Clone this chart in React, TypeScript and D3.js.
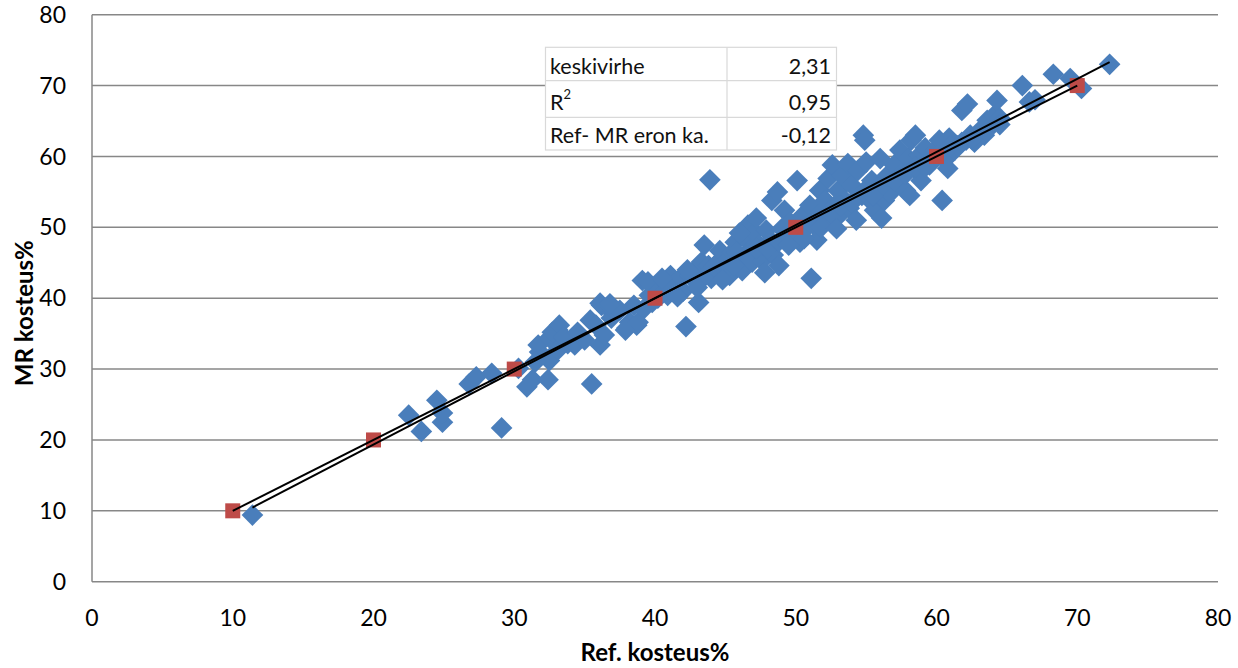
import React, { useEffect, useRef } from 'react';
import * as d3 from 'd3';

// measured points: [Ref. kosteus%, MR kosteus%]
const measured: [number, number][] = [
  [11.4, 9.4], [22.5, 23.5], [23.4, 21.2], [24.5, 25.6], [24.9, 22.5], [24.9, 23.8],
  [26.8, 27.9], [27.3, 28.9], [28.4, 29.4], [29.1, 21.7], [30.3, 30.1], [30.9, 27.5],
  [31.3, 28.5], [32.4, 28.5], [31.8, 32.4], [31.7, 33.4], [32.5, 34.4], [33.1, 35.5],
  [32.5, 31.2], [33.1, 32.7], [33.8, 33.6], [34.3, 33.4], [35.0, 34.1], [35.5, 27.9],
  [35.4, 36.9], [35.8, 36.2], [36.1, 33.4], [36.2, 39.0], [36.4, 34.8], [36.8, 38.3],
  [36.9, 37.2], [37.9, 35.5], [38.2, 36.6], [38.7, 36.2], [39.1, 42.5], [39.6, 40.4],
  [39.5, 42.3], [39.8, 39.4], [40.3, 41.1], [40.7, 42.3], [41.1, 43.2], [40.9, 40.4],
  [41.5, 41.8], [41.8, 42.8], [42.2, 36.0], [42.5, 43.2], [42.8, 43.9], [43.1, 39.4],
  [43.3, 45.1], [43.5, 47.5], [43.8, 44.6], [43.9, 56.7], [44.0, 42.8], [44.3, 43.9],
  [44.6, 45.3], [44.6, 46.7], [45.0, 45.1], [45.3, 43.2], [45.5, 46.5], [45.7, 47.9],
  [45.9, 45.3], [46.2, 43.9], [46.4, 48.4], [46.6, 50.3], [46.7, 46.7], [46.9, 45.1],
  [47.1, 49.3], [47.2, 51.3], [47.4, 47.5], [47.6, 45.3], [47.8, 43.6], [47.9, 49.6],
  [48.2, 48.2], [48.3, 53.8], [48.4, 46.1], [48.7, 55.0], [48.8, 44.6], [49.0, 49.8],
  [49.2, 52.4], [49.4, 48.2], [49.6, 50.7], [49.9, 49.3], [50.1, 56.6], [50.3, 47.9],
  [50.5, 51.7], [50.7, 49.8], [51.0, 53.1], [51.1, 42.8], [51.3, 50.3], [51.5, 48.2],
  [51.7, 55.2], [51.8, 52.1], [52.1, 53.8], [52.3, 56.9], [52.4, 51.0], [52.6, 58.8],
  [52.8, 53.1], [53.0, 55.2], [53.1, 51.7], [53.3, 57.3], [53.5, 53.8], [53.7, 59.0],
  [53.8, 52.7], [54.0, 55.9], [54.3, 51.0], [54.4, 58.0], [54.7, 54.5], [54.8, 63.0],
  [54.9, 62.3], [55.0, 59.2], [55.3, 53.8], [55.4, 56.6], [55.6, 52.4], [55.8, 55.5],
  [56.0, 59.7], [56.1, 51.3], [56.3, 53.8], [56.5, 57.3], [56.7, 54.8], [57.0, 58.8],
  [57.2, 56.6], [57.4, 60.9], [57.6, 57.7], [57.8, 55.2], [58.0, 59.7], [58.1, 54.5],
  [58.2, 62.3], [58.5, 63.0], [58.6, 58.0], [58.8, 60.2], [58.9, 56.6], [59.2, 61.2],
  [59.5, 58.8], [59.9, 60.9], [60.2, 62.3], [60.4, 53.8], [60.6, 59.5], [60.8, 58.3],
  [60.9, 62.6], [61.3, 60.9], [61.5, 61.5], [61.8, 66.5], [62.1, 62.3], [62.2, 67.4],
  [62.4, 63.0], [62.7, 62.0], [63.1, 63.7], [63.4, 63.0], [63.6, 65.1], [63.9, 64.4],
  [64.1, 65.8], [64.3, 67.9], [64.5, 65.4], [66.1, 70.0], [66.6, 67.7], [67.0, 68.0],
  [68.3, 71.6], [69.5, 71.0], [70.3, 69.6], [72.3, 73.0],
  [32.7, 35.2], [33.2, 36.2], [36.1, 39.3], [36.9, 38.7], [38.0, 35.8], [38.8, 36.6],
  [38.5, 39.0], [39.2, 38.5], [40.2, 40.0], [41.0, 41.5], [42.0, 41.0], [42.8, 42.5],
  [43.5, 43.0], [44.2, 44.5], [45.0, 44.0], [45.8, 46.5], [46.5, 46.0], [47.2, 47.0],
  [48.0, 47.0], [48.8, 48.0], [49.5, 47.5], [50.2, 49.0], [51.0, 50.5], [51.8, 50.0],
  [52.5, 52.0], [53.2, 53.0], [54.0, 53.5], [54.8, 55.0], [55.5, 54.5], [56.2, 56.0],
  [57.0, 56.5], [57.8, 57.5], [58.5, 58.5], [59.2, 58.5], [60.0, 60.0], [61.0, 61.5],
  [61.8, 62.0], [62.5, 62.5], [63.5, 63.5], [64.5, 64.5], [31.5, 31.0], [33.5, 34.5],
  [34.5, 35.2], [37.5, 38.3], [36.8, 39.2], [40.5, 42.8], [41.6, 40.2], [42.3, 44.0],
  [43.0, 41.5], [44.8, 42.6], [45.6, 44.6], [46.0, 49.2], [50.6, 48.4], [52.9, 49.8],
];

// reference (1:1) points
const reference = [10, 20, 30, 40, 50, 60, 70];

// fitted line
const fitSlope = 1.032;
const fitIntercept = -1.3;

const statLabels = ['keskivirhe', 'R', 'Ref- MR eron ka.'];
const statValues = ['2,31', '0,95', '-0,12'];

const ticks = [0, 10, 20, 30, 40, 50, 60, 70, 80];

const font = 'Lato, "Open Sans", sans-serif';

export default function App() {
  const svgRef = useRef<SVGSVGElement>(null);
  const width = 1238;
  const height = 668;

  useEffect(() => {
    if (!svgRef.current) return;
    const svg = d3.select(svgRef.current);
    svg.selectAll('*').remove();

    const x = d3.scaleLinear().domain([0, 80]).range([92, 1218]);
    const y = d3.scaleLinear().domain([0, 80]).range([581.7, 14.7]);

    // gridlines
    svg.append('g')
      .selectAll('line')
      .data(ticks)
      .join('line')
      .attr('x1', x(0))
      .attr('x2', x(80))
      .attr('y1', (d) => y(d))
      .attr('y2', (d) => y(d))
      .attr('stroke', '#878787')
      .attr('stroke-width', 1.5);

    svg.append('line')
      .attr('x1', x(0)).attr('x2', x(0))
      .attr('y1', y(0)).attr('y2', y(80))
      .attr('stroke', '#878787')
      .attr('stroke-width', 1.5);

    // tick labels
    svg.append('g')
      .selectAll('text')
      .data(ticks)
      .join('text')
      .attr('x', 66)
      .attr('y', (d) => y(d))
      .attr('dy', '0.35em')
      .attr('text-anchor', 'end')
      .attr('font-family', font)
      .attr('font-size', 23)
      .text((d) => d);

    svg.append('g')
      .selectAll('text')
      .data(ticks)
      .join('text')
      .attr('x', (d) => x(d))
      .attr('y', 618)
      .attr('dy', '0.35em')
      .attr('text-anchor', 'middle')
      .attr('font-family', font)
      .attr('font-size', 23)
      .text((d) => d);

    // axis titles
    svg.append('text')
      .attr('transform', `translate(33,${(y(0) + y(80)) / 2 + 15}) rotate(-90)`)
      .attr('text-anchor', 'middle')
      .attr('font-family', font)
      .attr('font-weight', 'bold')
      .attr('font-size', 24)
      .text('MR kosteus%');

    svg.append('text')
      .attr('x', (x(0) + x(80)) / 2)
      .attr('y', 661)
      .attr('text-anchor', 'middle')
      .attr('font-family', font)
      .attr('font-weight', 'bold')
      .attr('font-size', 24)
      .text('Ref. kosteus%');

    // measured points as diamonds
    const diamond = d3.symbol().type(d3.symbolSquare).size(235);
    svg.append('g')
      .selectAll('path')
      .data(measured)
      .join('path')
      .attr('d', diamond)
      .attr('transform', (d) => `translate(${x(d[0])},${y(d[1])}) rotate(45)`)
      .attr('fill', '#4a7ebb');

    // reference squares
    svg.append('g')
      .selectAll('rect')
      .data(reference)
      .join('rect')
      .attr('x', (d) => x(d) - 7.5)
      .attr('y', (d) => y(d) - 7.5)
      .attr('width', 15)
      .attr('height', 15)
      .attr('fill', '#be4b48');

    // lines
    const line = d3.line<[number, number]>()
      .x((d) => x(d[0]))
      .y((d) => y(d[1]));

    const refExt = d3.extent(reference) as [number, number];
    svg.append('path')
      .datum(refExt.map((v) => [v, v] as [number, number]))
      .attr('d', line)
      .attr('fill', 'none')
      .attr('stroke', '#000')
      .attr('stroke-width', 2);

    const xExt = d3.extent(measured, (d) => d[0]) as [number, number];
    svg.append('path')
      .datum(xExt.map((v) => [v, fitIntercept + fitSlope * v] as [number, number]))
      .attr('d', line)
      .attr('fill', 'none')
      .attr('stroke', '#000')
      .attr('stroke-width', 2);

    // stats table
    const tbl = svg.append('g');
    const tx = 545.5;
    const colX = 727;
    const tw = 836.5 - tx;
    const rowY = [47.3, 80.7, 117.3, 150];
    tbl.append('rect')
      .attr('x', tx).attr('y', rowY[0])
      .attr('width', tw).attr('height', rowY[3] - rowY[0])
      .attr('fill', '#fff')
      .attr('stroke', '#d9d9d9')
      .attr('stroke-width', 1.2);
    rowY.slice(1, 3).forEach((ry) => {
      tbl.append('line')
        .attr('x1', tx).attr('x2', tx + tw)
        .attr('y1', ry).attr('y2', ry)
        .attr('stroke', '#d9d9d9').attr('stroke-width', 1.2);
    });
    tbl.append('line')
      .attr('x1', colX).attr('x2', colX)
      .attr('y1', rowY[0]).attr('y2', rowY[3])
      .attr('stroke', '#d9d9d9').attr('stroke-width', 1.2);

    statLabels.forEach((lab, i) => {
      const t = tbl.append('text')
        .attr('x', 550)
        .attr('y', rowY[i + 1] - 7)
        .attr('font-family', font)
        .attr('font-size', 21.5)
        .attr('fill', '#111')
        .text(lab);
      if (i === 1) {
        t.append('tspan')
          .attr('font-size', 13)
          .attr('dy', -11)
          .text('2');
      }
      tbl.append('text')
        .attr('x', 831)
        .attr('y', rowY[i + 1] - 7)
        .attr('text-anchor', 'end')
        .attr('font-family', font)
        .attr('font-size', 21.5)
        .attr('fill', '#111')
        .text(statValues[i]);
    });
  }, []);

  return (
    <svg
      ref={svgRef}
      width={width}
      height={height}
      style={{ position: 'absolute', left: 0, top: 0, background: '#fff' }}
    />
  );
}
